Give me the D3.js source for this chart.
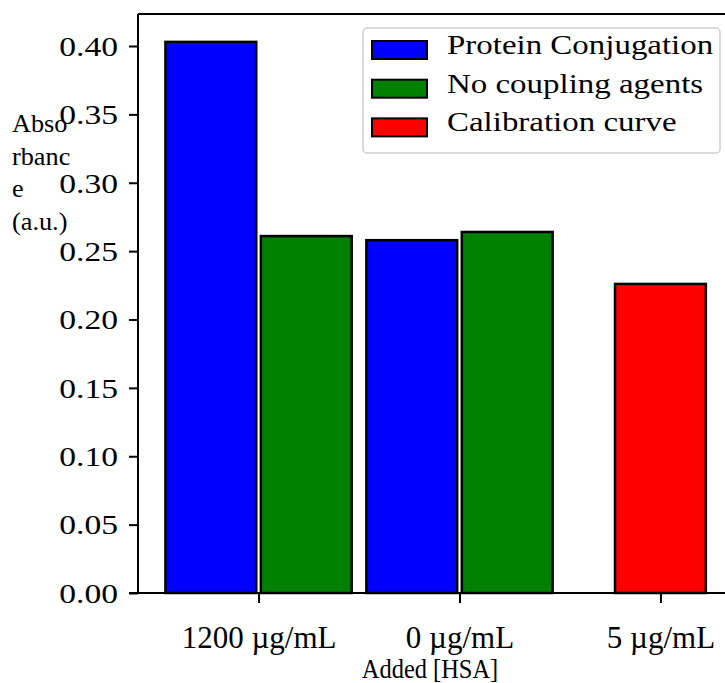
<!DOCTYPE html>
<html><head><meta charset="utf-8">
<script src="https://cdn.jsdelivr.net/npm/d3@7"></script>
<style>body{margin:0;background:#fff}svg{display:block}text{font-family:"Liberation Serif","Times New Roman",serif;fill:#000}</style>
</head><body><svg id="c" width="725" height="683"></svg>
<script>
const categories = ["1200 µg/mL", "0 µg/mL", "5 µg/mL"];
const seriesNames = ["Protein Conjugation", "No coupling agents", "Calibration curve"];
const seriesColors = ["#0000ff", "#008000", "#ff0000"];
const proteinConjugation = [0.403, 0.258, null];
const noCouplingAgents = [0.261, 0.264, null];
const calibrationCurve = [null, null, 0.226];
const seriesOffsets = [-0.2375, 0.2375, 0];
const yTicks = [0, 0.05, 0.10, 0.15, 0.20, 0.25, 0.30, 0.35, 0.40];
const yLabelLines = ["Abso", "rbanc", "e", "(a.u.)"];
const xTitle = "Added [HSA]";

const svg = d3.select("#c");
const x = d3.scaleLinear().domain([-0.6, 2.6]).range([138, 781]);
const y = d3.scaleLinear().domain([0, 0.4234]).range([593, 14]);
const barW = 0.452;
const SX = 1.22;

const seriesData = [proteinConjugation, noCouplingAgents, calibrationCurve];
seriesData.forEach((vals, s) => {
  svg.append("g").selectAll("rect")
    .data(vals.map((v, i) => ({v, i})).filter(d => d.v != null))
    .join("rect")
    .attr("x", d => x(d.i + seriesOffsets[s] - barW / 2))
    .attr("width", d => x(barW) - x(0))
    .attr("y", d => y(d.v))
    .attr("height", d => y(0) - y(d.v))
    .attr("fill", seriesColors[s])
    .attr("stroke", "#000").attr("stroke-width", 2.5);
});

// spines
svg.append("line").attr("x1", 138).attr("x2", 725).attr("y1", y(0.4234)).attr("y2", y(0.4234)).attr("stroke", "#000").attr("stroke-width", 2);
svg.append("line").attr("x1", 138).attr("x2", 138).attr("y1", y(0.4234)).attr("y2", y(0)).attr("stroke", "#000").attr("stroke-width", 2);

// y axis
const ya = svg.append("g").attr("transform", "translate(138,0)")
  .call(d3.axisLeft(y).tickValues(yTicks).tickFormat(d3.format(".2f")).tickSize(9).tickPadding(11));
ya.select(".domain").remove();
ya.selectAll(".tick line").attr("stroke", "#000").attr("stroke-width", 2);
ya.selectAll(".tick text").attr("font-size", 27.5)
  .attr("dy", "0.34em")
  .attr("transform", function(){ const xx = +d3.select(this).attr("x"); return `translate(${xx*(1-SX)},0) scale(${SX},1)`; });

// x axis
const xa = svg.append("g").attr("transform", `translate(0,${y(0)})`)
  .call(d3.axisBottom(x).tickValues([0, 1, 2]).tickFormat(i => categories[i]).tickSize(10).tickPadding(23));
xa.select(".domain").attr("d", `M129,0H725`).attr("stroke", "#000").attr("stroke-width", 2);
xa.selectAll(".tick line").attr("stroke", "#000").attr("stroke-width", 2);
xa.selectAll(".tick text").attr("font-size", 31);

svg.append("text").attr("transform", `translate(430,678) scale(0.94,1.05)`).attr("text-anchor", "middle").attr("font-size", 26).text(xTitle);

// y label
yLabelLines.forEach((t, i) => {
  svg.append("text").attr("transform", `translate(12,${132 + i * 32.7}) scale(1.05,1)`).attr("font-size", 25).text(t);
});

// legend
const lg = svg.append("g");
lg.append("rect").attr("x", 363).attr("y", 28).attr("width", 357).attr("height", 125).attr("rx", 4)
  .attr("fill", "#fff").attr("fill-opacity", 0.8).attr("stroke", "#d0d0d0").attr("stroke-width", 1.5);
seriesNames.forEach((n, i) => {
  const yy = 41 + i * 38.7;
  lg.append("rect").attr("x", 372).attr("y", yy).attr("width", 55).attr("height", 18)
    .attr("fill", seriesColors[i]).attr("stroke", "#000").attr("stroke-width", 2);
  lg.append("text").attr("transform", `translate(447,${yy + 13}) scale(1.22,1)`).attr("font-size", 27).text(n);
});
</script></body></html>
